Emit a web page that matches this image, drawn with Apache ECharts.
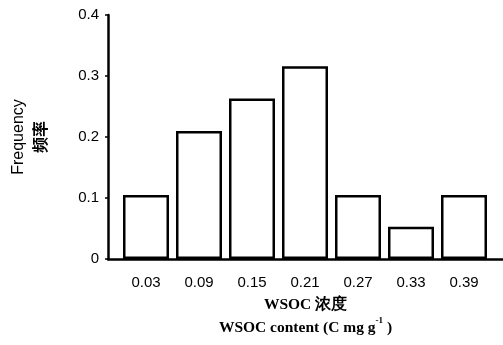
<!DOCTYPE html>
<html><head><meta charset="utf-8">
<script src="https://cdn.jsdelivr.net/npm/echarts@6/dist/echarts.min.js"></script>
<style>html,body{margin:0;padding:0;background:#fff}#c{width:503px;height:345px}</style>
</head><body><div id="c"></div>
<script>
const categories = ['0.03','0.09','0.15','0.21','0.27','0.33','0.39'];
const frequency = [0.105, 0.21, 0.263, 0.316, 0.105, 0.053, 0.105];
const yTicks = [0, 0.1, 0.2, 0.3, 0.4];

const chart = echarts.init(document.getElementById('c'));
const tickFont = {fontFamily:'Liberation Sans', fontSize:15, color:'#000'};
chart.setOption({
  animation:false,
  backgroundColor:'#fff',
  grid:[
    {left:104, right:0, top:15, bottom:86},
    {left:119.5, right:12.5, top:15, bottom:86}
  ],
  xAxis:[
    {gridIndex:0, type:'value', min:0, max:1, axisLine:{show:true,lineStyle:{color:'#000',width:2.5}},
     axisTick:{show:false}, axisLabel:{show:false}, splitLine:{show:false},
     name:'{a|WSOC 浓度}\n{a|WSOC content (C mg g}{s|-1}{a| )}', nameLocation:'middle', nameGap:34,
     nameTextStyle:{fontFamily:'Liberation Serif', fontSize:15, fontWeight:'bold', color:'#000', lineHeight:23, align:'center',
       rich:{a:{fontFamily:'Liberation Serif', fontSize:15.5, fontWeight:'bold', color:'#000', lineHeight:23},
             s:{fontFamily:'Liberation Serif', fontSize:9, fontWeight:'bold', color:'#000', verticalAlign:'top', lineHeight:23, padding:[0,0,6,0]}}}},
    {gridIndex:1, type:'category', data:categories, axisLine:{show:false}, axisTick:{show:false},
     axisLabel:Object.assign({margin:16}, tickFont)}
  ],
  yAxis:[
    {gridIndex:0, type:'value', min:yTicks[0], max:yTicks[yTicks.length-1], interval:0.1,
     axisLine:{show:true,lineStyle:{color:'#000',width:2.5}},
     axisTick:{show:true,length:3,lineStyle:{color:'#000',width:1.5}},
     axisLabel:Object.assign({margin:9, formatter:v=>v===0?'0':v.toFixed(1)}, tickFont),
     splitLine:{show:false},
     name:'{f|Frequency}\n{c|频率}', nameLocation:'middle', nameRotate:90, nameGap:58,
     nameTextStyle:{color:'#000', lineHeight:21, align:'center',
       rich:{f:{fontFamily:'Liberation Sans', fontSize:16, color:'#000', lineHeight:21},
             c:{fontFamily:'Noto Sans CJK SC', fontSize:16, fontWeight:'bold', color:'#000', lineHeight:21}}}},
    {gridIndex:1, type:'value', min:0, max:0.4, show:false}
  ],
  series:[{
    type:'bar', xAxisIndex:1, yAxisIndex:1, data:frequency, barWidth:46,
    itemStyle:{color:'#fff', borderColor:'#000', borderWidth:2.5}
  }]
});
</script></body></html>
